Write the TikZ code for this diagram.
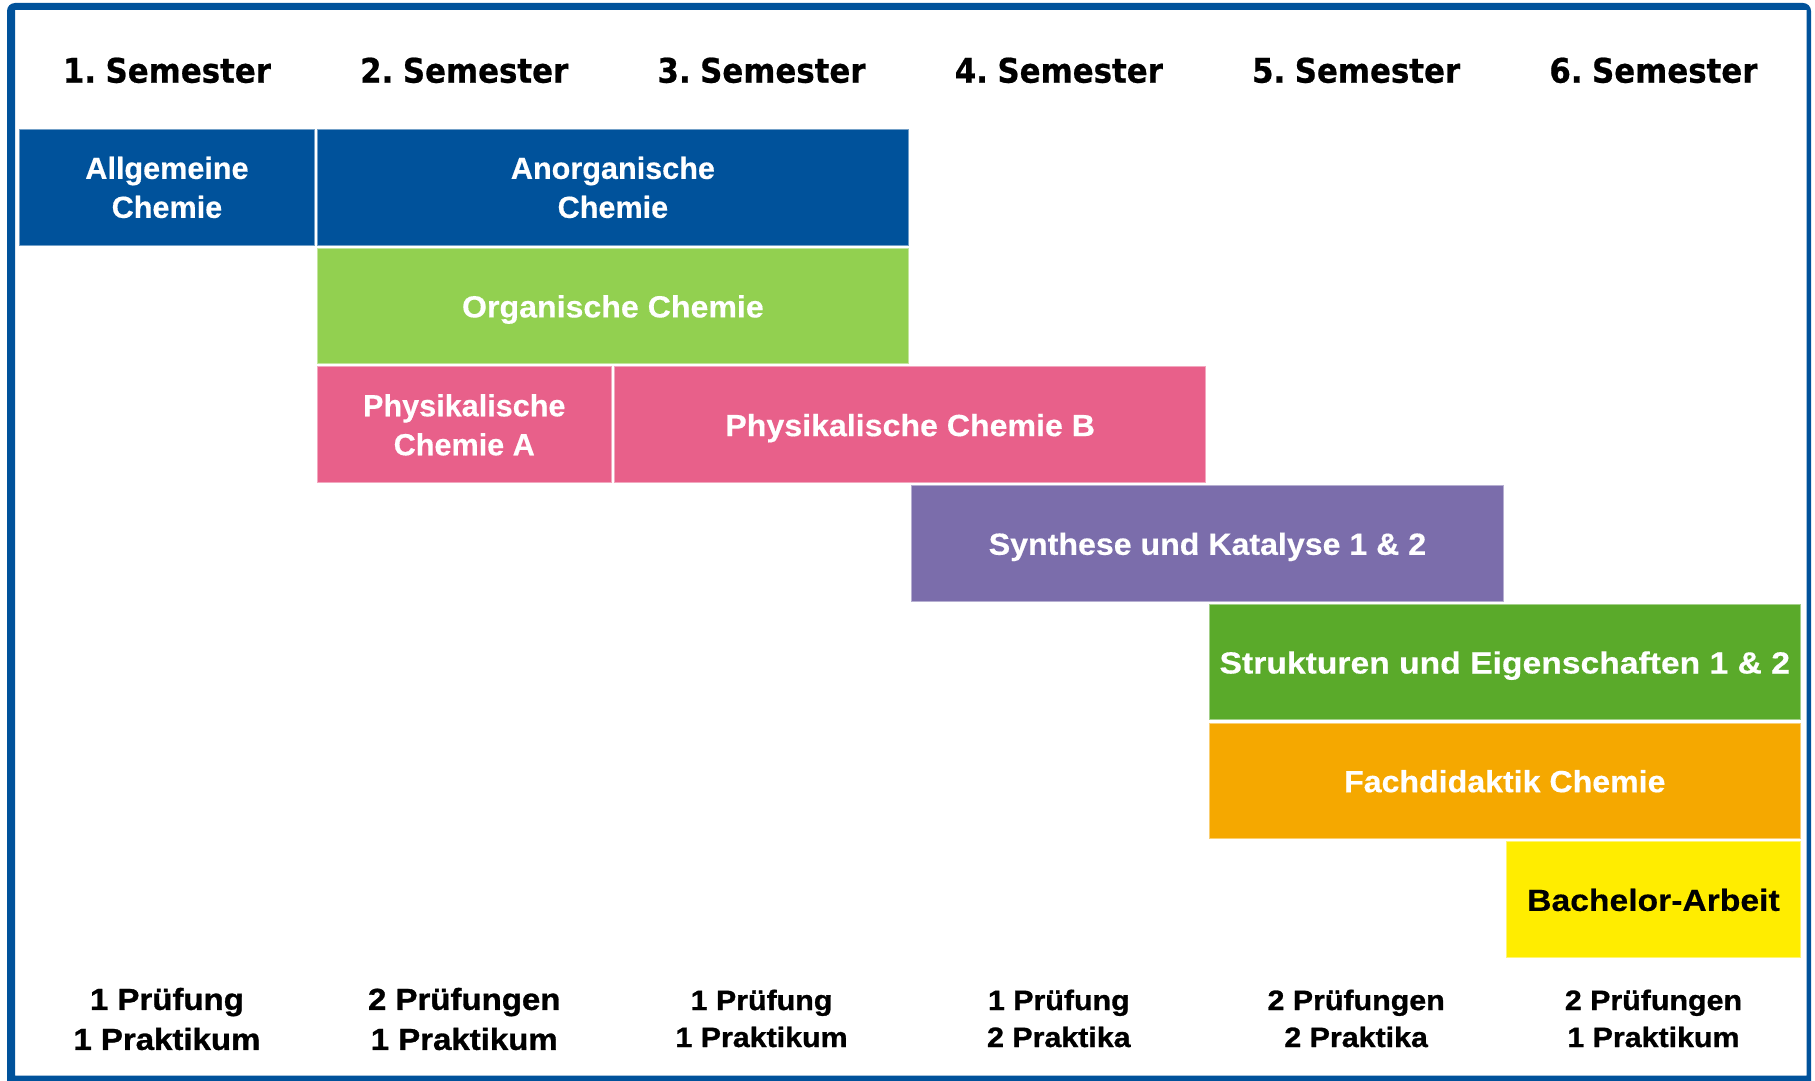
\documentclass[tikz,border=0pt]{standalone}
\usepackage{fontspec}
\newfontfamily\hdfont{DejaVu Sans}[FakeStretch=0.91,WordSpace=0.55,FakeBold=0.6]
\newfontfamily\bxfont{Liberation Sans}[FakeBold=0.4]
\newfontfamily\bxfontw{Liberation Sans}[FakeStretch=1.05,FakeBold=0.4]
\newfontfamily\bxfontww{Liberation Sans}[FakeStretch=1.10,FakeBold=0.4]
\newfontfamily\btfont{Liberation Sans}[FakeStretch=1.085,FakeBold=1.0]
\definecolor{cblue}{HTML}{00529B}
\definecolor{clgreen}{HTML}{92D050}
\definecolor{cpink}{HTML}{E8608A}
\definecolor{cpurple}{HTML}{7B6DAB}
\definecolor{cdgreen}{HTML}{5AAA2A}
\definecolor{corange}{HTML}{F5A800}
\definecolor{cyellow}{HTML}{FFED00}
\begin{document}
\begin{tikzpicture}[x=0.5pt,y=-0.5pt,
  box/.style={draw=#1!55!white, fill=#1, line width=0.5pt, minimum height=57.75pt,
    inner sep=0pt, text=white, align=center, text depth=0pt,
    font=\bxfont\bfseries\fontsize{15.3pt}{19.5pt}\selectfont},
  single/.style={minimum width=147.1pt},
  double/.style={minimum width=295.75pt},
  oneline/.style={text height=11.4pt},
  hd/.style={inner sep=0pt, font=\hdfont\bfseries\fontsize{16.95pt}{20pt}\selectfont},
  bt/.style={inner sep=0pt, align=center, font=\btfont\bfseries\fontsize{15.2pt}{20pt}\selectfont},
  bts/.style={inner sep=0pt, align=center, font=\btfont\bfseries\fontsize{14pt}{18.5pt}\selectfont}]
\useasboundingbox (0,0) rectangle (1815,1081);
\clip (0,0) rectangle (1815,1081);
\fill[white] (0,0) rectangle (1815,1081);
% frame
\fill[cblue, even odd rule] [rounded corners=4] (7,3) rectangle (1811,1092)
  [sharp corners] (15,10) rectangle (1806.5,1075.7);
% headers
\node[hd] (h1) at (166.95,70.35) {1. Semester};
\node[hd] (h2) at (464.25,70.35) {2. Semester};
\node[hd] (h3) at (761.55,70.35) {3. Semester};
\node[hd] (h4) at (1058.85,70.35) {4. Semester};
\node[hd] (h5) at (1356.15,70.35) {5. Semester};
\node[hd] (h6) at (1653.45,70.35) {6. Semester};
% modules
\node[box=cblue, single] (allg) at (166.95,187.3) {Allgemeine\\Chemie};
\node[box=cblue, double] (anorg) at (612.9,187.3) {Anorganische\\Chemie};
\node[box=clgreen, double, oneline, font=\bxfontw\bfseries\fontsize{15.3pt}{19.5pt}\selectfont] (org) at (612.9,306) {Organische Chemie};
\node[box=cpink, single] (pca) at (464.25,424.7) {Physikalische\\Chemie A};
\node[box=cpink, double, oneline, font=\bxfontw\bfseries\fontsize{15.3pt}{19.5pt}\selectfont] (pcb) at (910.2,424.7) {Physikalische Chemie B};
\node[box=cpurple, double, oneline, font=\bxfontw\bfseries\fontsize{15.3pt}{19.5pt}\selectfont] (syn) at (1207.5,543.4) {Synthese und Katalyse 1 \& 2};
\node[box=cdgreen, double, oneline, font=\bxfontww\bfseries\fontsize{15.3pt}{19.5pt}\selectfont] (struk) at (1504.8,662.1) {Strukturen und Eigenschaften 1 \& 2};
\node[box=corange, double, oneline, font=\bxfontw\bfseries\fontsize{15.3pt}{19.5pt}\selectfont] (fach) at (1504.8,780.8) {Fachdidaktik Chemie};
\node[box=cyellow, single, oneline, text=black, font=\bxfontww\bfseries\fontsize{15.3pt}{19.5pt}\selectfont] (ba) at (1653.45,899.5) {Bachelor-Arbeit};
% bottom
\node[bt] (b1) at (166.95,1019) {1 Prüfung\\1 Praktikum};
\node[bt] (b2) at (464.25,1019) {2 Prüfungen\\1 Praktikum};
\node[bts] (b3) at (761.55,1018.5) {1 Prüfung\\1 Praktikum};
\node[bts] (b4) at (1058.85,1018.5) {1 Prüfung\\2 Praktika};
\node[bts] (b5) at (1356.15,1018.5) {2 Prüfungen\\2 Praktika};
\node[bts] (b6) at (1653.45,1018.5) {2 Prüfungen\\1 Praktikum};
\end{tikzpicture}
\end{document}
